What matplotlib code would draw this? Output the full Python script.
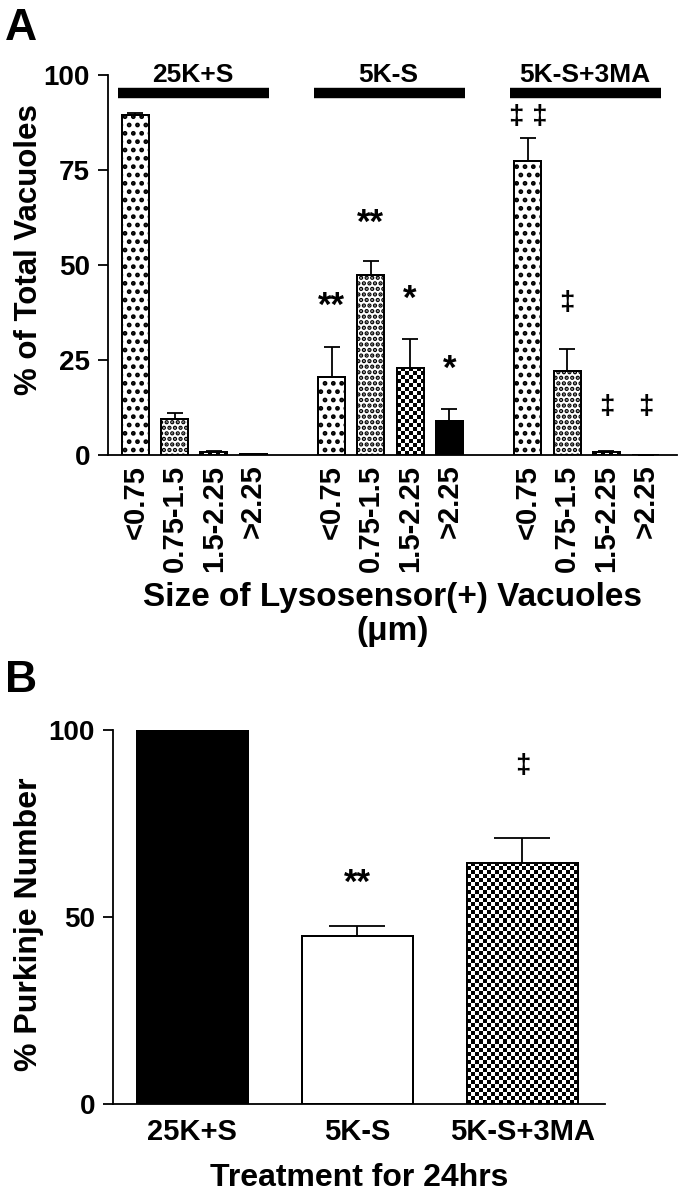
import matplotlib
matplotlib.use("Agg")
import matplotlib.pyplot as plt
import numpy as np

plt.rcParams['font.family'] = ['Liberation Sans', 'DejaVu Sans']
plt.rcParams['font.weight'] = 'bold'
plt.rcParams['axes.labelweight'] = 'bold'
plt.rcParams['hatch.linewidth'] = 2.2
plt.rcParams['hatch.color'] = 'black'

# ---- panel A data: % of total vacuoles by size ----
size_labels = ['<0.75', '0.75-1.5', '1.5-2.25', '>2.25']
groups = ['25K+S', '5K-S', '5K-S+3MA']
vac_25k = [89.5, 9.5, 0.7, 0.3]
vac_25k_err = [0.5, 1.5, 0.3, 0.0]
vac_5k = [20.5, 47.5, 23.0, 9.0]
vac_5k_err = [8.0, 3.5, 7.5, 3.0]
vac_3ma = [77.5, 22.0, 0.7, 0.0]
vac_3ma_err = [6.0, 6.0, 0.3, 0.0]
sig_5k = ['**', '**', '*', '*']
sig_5k_y = [39, 61, 41, 22.5]
sig_3ma = ['‡ ‡', '‡', '‡', '‡']
sig_3ma_y = [89, 40, 12.6, 12.6]

# ---- panel B data: % Purkinje number ----
treatments = ['25K+S', '5K-S', '5K-S+3MA']
purkinje = [100, 45, 64.5]
purkinje_err = [0, 2.5, 6.5]
sig_b = ['', '**', '‡']
sig_b_y = [0, 59, 90.5]

fill_styles = ['sparse', 'dense', 'checker', 'solid']

fig = plt.figure(figsize=(6.84, 12), dpi=100)


def checker(ax, bar, sq=4.0):
    # checkerboard texture inside a bar
    bb = bar.get_window_extent()
    nx = max(1, int(round(bb.width / sq)))
    ny = max(1, int(round(bb.height / sq)))
    pat = np.add.outer(np.arange(ny), np.arange(nx)) % 2
    ab = bb.transformed(ax.transAxes.inverted())
    im = ax.imshow(pat, cmap='gray', extent=(ab.x0, ab.x1, ab.y0, ab.y1),
                   transform=ax.transAxes, origin='lower', interpolation='nearest',
                   aspect='auto', zorder=2)
    im.set_clip_path(bar)


def style_bar(ax, bar, style):
    if style == 'sparse':
        bar.set_hatch('..')
    elif style == 'dense':
        bar.set_hatch('...')
    elif style == 'solid':
        bar.set_facecolor('black')
    elif style == 'checker':
        checker(ax, bar)


# ================= Panel A =================
axA = fig.add_axes([108 / 684, 1 - 455 / 1200, 569 / 684, 380 / 1200])
axA.set_xlim(-0.7, 13.8)
axA.set_ylim(0, 100)

all_vals = [vac_25k, vac_5k, vac_3ma]
all_errs = [vac_25k_err, vac_5k_err, vac_3ma_err]
xt, xl = [], []
for g in range(3):
    xs = [g * 5 + i for i in range(4)]
    bars = axA.bar(xs, all_vals[g], width=0.69, color='white', edgecolor='black',
                   linewidth=1.4, zorder=1)
    for b, st in zip(bars, fill_styles):
        style_bar(axA, b, st)
    axA.bar(xs, all_vals[g], width=0.69, fill=False, edgecolor='black',
            linewidth=1.4, zorder=3)
    axA.errorbar(xs, all_vals[g], yerr=[np.zeros(4), all_errs[g]], fmt='none',
                 ecolor='black', elinewidth=1.3, capsize=6, capthick=1.3, zorder=3)
    axA.plot([xs[0] - 0.45, xs[-1] + 0.4], [95.3, 95.3], color='black', lw=7.5,
             solid_capstyle='butt', clip_on=False)
    axA.text((xs[0] + xs[-1]) / 2 - 0.05, 100.0, groups[g], ha='center', va='center',
             fontsize=19, fontweight='bold', clip_on=False)
    xt += xs
    xl += size_labels

for i in range(4):
    axA.text(5 + i, sig_5k_y[i], sig_5k[i], ha='center', va='center',
             fontsize=25, fontweight='bold')
    axA.text(10 + i, sig_3ma_y[i], sig_3ma[i], ha='center', va='center',
             fontsize=20, fontweight='bold', clip_on=False)

axA.set_xticks(xt)
axA.set_xticklabels(xl, rotation=90, fontsize=21, fontweight='bold')
axA.set_yticks([0, 25, 50, 75, 100])
axA.tick_params(axis='x', length=0, pad=7)
axA.tick_params(axis='y', direction='out', length=7, width=1.3, labelsize=20, pad=6)
for s in ['top', 'right']:
    axA.spines[s].set_visible(False)
for s in ['left', 'bottom']:
    axA.spines[s].set_linewidth(1.3)
axA.set_ylabel('% of Total Vacuoles', fontsize=22.5, fontweight='bold')
axA.yaxis.set_label_coords(-0.113, 0.54)
axA.set_xlabel('Size of Lysosensor(+) Vacuoles\n(\u03bcm)', fontsize=24,
               fontweight='bold', linespacing=1.15, labelpad=7)
fig.text(5 / 684, 1 - 28 / 1200, 'A', fontsize=32, fontweight='bold', va='center')

# ================= Panel B =================
axB = fig.add_axes([113 / 684, 1 - 1104 / 1200, 492 / 684, 374 / 1200])
axB.set_xlim(-0.48, 2.5)
axB.set_ylim(0, 100)

xb = np.arange(len(treatments))
barsB = axB.bar(xb, purkinje, width=0.67, color='white', edgecolor='black',
                linewidth=1.4, zorder=1)
for b, st in zip(barsB, ['solid', 'white', 'checker']):
    style_bar(axB, b, st)
axB.bar(xb, purkinje, width=0.67, fill=False, edgecolor='black', linewidth=1.4, zorder=3)
axB.errorbar(xb[1:], purkinje[1:], yerr=[np.zeros(2), purkinje_err[1:]], fmt='none',
             ecolor='black', elinewidth=1.3, capsize=20, capthick=1.3, zorder=3)
for i in range(len(treatments)):
    if sig_b[i]:
        axB.text(xb[i], sig_b_y[i], sig_b[i], ha='center', va='center',
                 fontsize=25 if sig_b[i] == '**' else 20, fontweight='bold', clip_on=False)

axB.set_xticks(xb)
axB.set_xticklabels(treatments, fontsize=21, fontweight='bold')
axB.set_yticks([0, 50, 100])
axB.tick_params(axis='x', length=0, pad=10)
axB.tick_params(axis='y', direction='out', length=7, width=1.3, labelsize=20, pad=6)
for s in ['top', 'right']:
    axB.spines[s].set_visible(False)
for s in ['left', 'bottom']:
    axB.spines[s].set_linewidth(1.3)
axB.set_ylabel('% Purkinje Number', fontsize=23, fontweight='bold')
axB.yaxis.set_label_coords(-0.140, 0.48)
axB.set_xlabel('Treatment for 24hrs', fontsize=23, fontweight='bold', labelpad=12)
fig.text(5 / 684, 1 - 681 / 1200, 'B', fontsize=32, fontweight='bold', va='center')

fig.savefig('out.png', dpi=100)
